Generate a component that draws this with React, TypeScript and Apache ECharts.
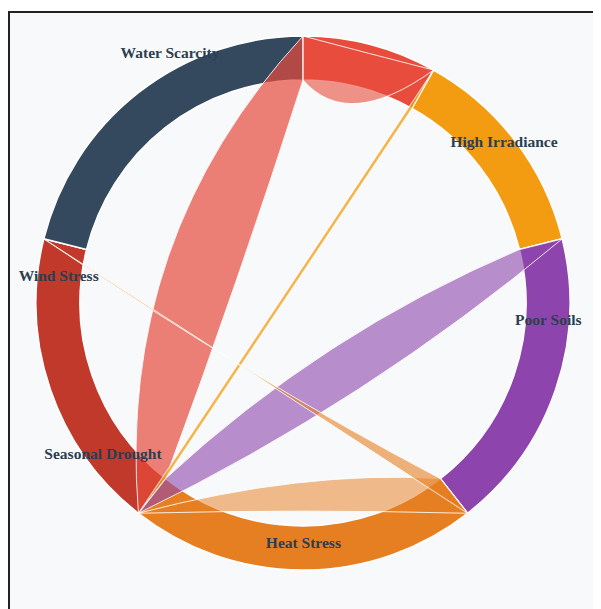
import React, { useEffect, useRef } from "react";
import * as echarts from "echarts";

// ---- data ----
const nodeNames = ["Salinity", "High Irradiance", "Poor Soils", "Heat Stress", "Seasonal Drought", "Wind Stress", "Water Scarcity"];
const nodeValues = [10, 16, 22.5, 26, 22.5, 0, 26];
const nodeColors = ["#e74c3c", "#f39c12", "#8e44ad", "#e67e22", "#c0392b", "#c0392b", "#34495e"];
const showLabel = [false, true, true, true, true, true, true];

const linkSource = [0, 0, 1, 2, 3, 3];
const linkTarget = [4, 1, 4, 4, 4, 5];
const linkValues = [8, 4, 0.5, 6, 5, 0.5];

// ---- style / layout ----
const CX = 293;
const CY = 290;
const R_OUT = 267;
const R_IN = 223;
// control radii (px) for the two edges of each ribbon, whether target end spans the ring
const linkOuterBend = [198, 258, 20, 118, 206, 86];
const linkInnerBend = [68, 177, 17, 36, 167, 92];
const linkRadialEnd = [true, false, true, true, false, false];
const linkOpacity = [0.7, 0.6, 0.75, 0.6, 0.52, 0.6];
// label centres in chart pixels
const labelPos: [number, number][] = [
  [0, 0],
  [494, 128.7],
  [538.3, 306.3],
  [293.4, 529.3],
  [93, 440.3],
  [48.7, 262],
  [160, 39.3],
];

const TOTAL = nodeValues.reduce((a, b) => a + b, 0);
const nodeStart: number[] = [];
nodeValues.reduce((acc, v, i) => {
  nodeStart[i] = acc;
  return acc + v;
}, 0);

function bisector(a: number, b: number) {
  const diff = (((b - a) % TOTAL) + TOTAL) % TOTAL;
  const m = diff <= TOTAL / 2 ? a + diff / 2 : b + (TOTAL - diff) / 2;
  return ((m % TOTAL) + TOTAL) % TOTAL;
}

export default function App() {
  const ref = useRef<HTMLDivElement>(null);
  useEffect(() => {
    const chart = echarts.init(ref.current!, null, { renderer: "svg" });
    const renderItem = (params: any, api: any) => {
      const i = params.dataIndex;
      const s = linkSource[i];
      const t = linkTarget[i];
      const vs = nodeStart[s];
      const vt = nodeStart[t];
      const mid = bisector(vs, vt);
      const P = (r: number, v: number) => {
        const p = api.coord([r, v]);
        return `${p[0].toFixed(2)} ${p[1].toFixed(2)}`;
      };
      let d = `M ${P(R_OUT, vs)} Q ${P(linkOuterBend[i], mid)} ${P(R_OUT, vt)}`;
      if (linkRadialEnd[i]) d += ` L ${P(R_IN, vt)}`;
      d += ` Q ${P(linkInnerBend[i], mid)} ${P(R_IN, vs)} Z`;
      return {
        type: "path",
        shape: { pathData: d },
        style: {
          fill: nodeColors[s],
          fillOpacity: linkOpacity[i],
          stroke: "#ffffff",
          strokeOpacity: 0.85,
          lineWidth: 1,
        },
      };
    };
    chart.setOption({
      animation: false,
      backgroundColor: "#f8f9fa",
      polar: { center: [CX, CY], radius: R_OUT },
      angleAxis: { type: "value", min: 0, max: TOTAL, startAngle: 90, clockwise: true, show: false },
      radiusAxis: { type: "value", min: 0, max: R_OUT, show: false },
      series: [
        {
          type: "pie",
          z: 1,
          center: [CX, CY],
          radius: [R_IN, R_OUT],
          startAngle: 90,
          clockwise: true,
          silent: true,
          avoidLabelOverlap: false,
          label: { show: false },
          labelLine: { show: false },
          itemStyle: { borderColor: "#ffffff", borderWidth: 1.5 },
          data: nodeNames.map((n, i) => ({
            name: n,
            value: nodeValues[i],
            itemStyle: { color: nodeColors[i], borderWidth: nodeValues[i] ? 1.5 : 0 },
          })),
        },
        {
          type: "custom",
          z: 5,
          coordinateSystem: "polar",
          silent: true,
          clip: false,
          renderItem,
          data: linkValues.map((v, i) => [R_IN, nodeStart[linkSource[i]], v]),
        },
      ],
      graphic: nodeNames
        .map((n, i) => ({ n, i }))
        .filter(({ i }) => showLabel[i])
        .map(({ n, i }) => ({
          type: "text",
          x: labelPos[i][0],
          y: labelPos[i][1],
          z: 100,
          style: {
            text: n,
            fill: "#2c3e50",
            font: 'bold 15.5px "Times New Roman", "Liberation Serif", serif',
            align: "center",
            verticalAlign: "middle",
            textAlign: "center",
            textVerticalAlign: "middle",
          },
        })),
    } as any);
    return () => chart.dispose();
  }, []);
  return (
    <div
      ref={ref}
      style={{
        width: 593,
        height: 598,
        marginTop: 3,
        borderLeft: "2px solid #222",
        borderTop: "2px solid #222",
        boxSizing: "border-box",
      }}
    />
  );
}
